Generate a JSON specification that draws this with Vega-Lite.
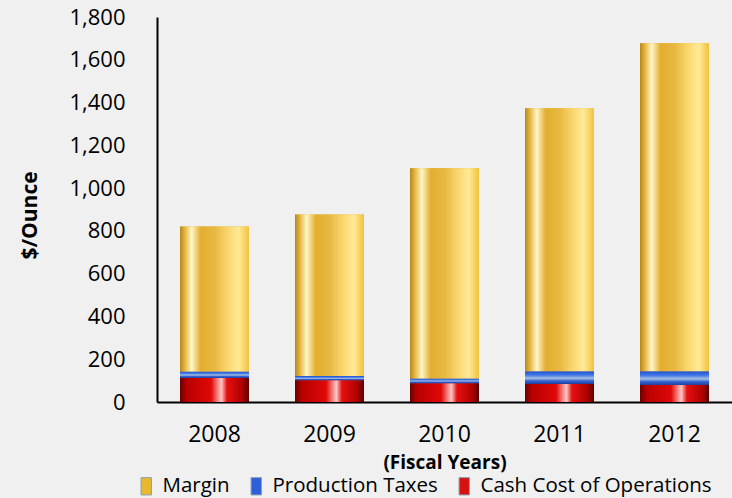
{
  "$schema": "https://vega.github.io/schema/vega-lite/v6.json",
  "width": 575,
  "height": 385,
  "autosize": "none",
  "padding": {"left": 157, "top": 17, "right": 0, "bottom": 96},
  "background": "#f0f0f0",
  "view": {"stroke": null},
  "config": {"font": "Open Sans"},
  "data": {
    "values": [
      {"year": "2008", "series": "Cash Cost of Operations", "rank": 1, "value": 112},
      {"year": "2008", "series": "Production Taxes", "rank": 2, "value": 31},
      {"year": "2008", "series": "Margin", "rank": 3, "value": 678},
      {"year": "2009", "series": "Cash Cost of Operations", "rank": 1, "value": 102},
      {"year": "2009", "series": "Production Taxes", "rank": 2, "value": 19},
      {"year": "2009", "series": "Margin", "rank": 3, "value": 756},
      {"year": "2010", "series": "Cash Cost of Operations", "rank": 1, "value": 88},
      {"year": "2010", "series": "Production Taxes", "rank": 2, "value": 22},
      {"year": "2010", "series": "Margin", "rank": 3, "value": 983},
      {"year": "2011", "series": "Cash Cost of Operations", "rank": 1, "value": 84},
      {"year": "2011", "series": "Production Taxes", "rank": 2, "value": 60},
      {"year": "2011", "series": "Margin", "rank": 3, "value": 1229},
      {"year": "2012", "series": "Cash Cost of Operations", "rank": 1, "value": 79},
      {"year": "2012", "series": "Production Taxes", "rank": 2, "value": 65},
      {"year": "2012", "series": "Margin", "rank": 3, "value": 1533}
    ]
  },
  "encoding": {
    "x": {
      "field": "year", "type": "nominal",
      "scale": {"paddingInner": 0.4, "paddingOuter": 0.2},
      "axis": {
        "title": "(Fiscal Years)", "labelAngle": 0, "labelFontSize": 23, "labelColor": "#000",
        "labelPadding": 21, "ticks": false, "domainColor": "#000", "domainWidth": 2,
        "titleFontSize": 19, "titleFontWeight": "bold", "titleColor": "#000",
        "titleY": 60, "titleBaseline": "middle"
      }
    },
    "y": {
      "field": "value", "type": "quantitative", "stack": "zero",
      "scale": {"domain": [0, 1800], "nice": false},
      "axis": {
        "title": "$/Ounce", "values": [0, 200, 400, 600, 800, 1000, 1200, 1400, 1600, 1800],
        "format": ",d", "grid": false, "ticks": false, "labelFontSize": 22, "labelColor": "#000",
        "labelPadding": 32, "domainColor": "#000", "domainWidth": 2,
        "titleFontSize": 21, "titleFontWeight": "bold", "titleColor": "#000",
        "titleX": -127, "titleY": 198, "titleBaseline": "middle", "titleAngle": 270
      }
    },
    "order": {"field": "rank", "type": "quantitative"}
  },
  "layer": [
    {
      "mark": {"type": "bar"},
      "encoding": {
        "color": {
          "field": "series", "type": "nominal",
          "scale": {"domain": ["Margin", "Production Taxes", "Cash Cost of Operations"], "range": ["#E8B830", "#2F5FD8", "#D81010"]},
          "legend": {
            "title": null, "orient": "none", "direction": "horizontal",
            "legendX": -21, "legendY": 459, "labelFontSize": 20.5, "labelColor": "#000", "labelLimit": 400,
            "symbolType": "M-0.6,-1H0.6V1H-0.6Z", "symbolSize": 300, "symbolStrokeColor": "#8aa0b0", "symbolStrokeWidth": 1,
            "columnPadding": 16, "labelOffset": 6
          }
        }
      }
    },
    {
      "mark": {"type": "bar"},
      "encoding": {
        "detail": {"field": "series"},
        "fill": {
          "condition": [
            {"test": "datum.series === 'Margin'", "value": {"gradient": "linear", "x1": 0, "x2": 1, "y1": 0, "y2": 0, "stops": [
              {"offset": 0, "color": "#B8861A"},
              {"offset": 0.08, "color": "#E8BC48"},
              {"offset": 0.17, "color": "#FFF6C8"},
              {"offset": 0.3, "color": "#E2AE30"},
              {"offset": 0.5, "color": "#E8B840"},
              {"offset": 0.7, "color": "#FAD870"},
              {"offset": 0.85, "color": "#FFEA98"},
              {"offset": 1, "color": "#F2C23C"}
            ]}},
            {"test": "datum.series === 'Production Taxes'", "value": {"gradient": "linear", "x1": 0, "x2": 0, "y1": 0, "y2": 1, "stops": [
              {"offset": 0, "color": "#2450C8"},
              {"offset": 0.3, "color": "#3F78E8"},
              {"offset": 0.55, "color": "#A8C0E0"},
              {"offset": 0.75, "color": "#3564D4"},
              {"offset": 1, "color": "#1E3E9C"}
            ]}}
          ],
          "value": {"gradient": "linear", "x1": 0, "x2": 1, "y1": 0, "y2": 0, "stops": [
            {"offset": 0, "color": "#6A0000"},
            {"offset": 0.1, "color": "#B80000"},
            {"offset": 0.45, "color": "#E00808"},
            {"offset": 0.6, "color": "#FFC8C8"},
            {"offset": 0.68, "color": "#E41010"},
            {"offset": 0.9, "color": "#B00000"},
            {"offset": 1, "color": "#5A0000"}
          ]}
        }
      }
    }
  ]
}
